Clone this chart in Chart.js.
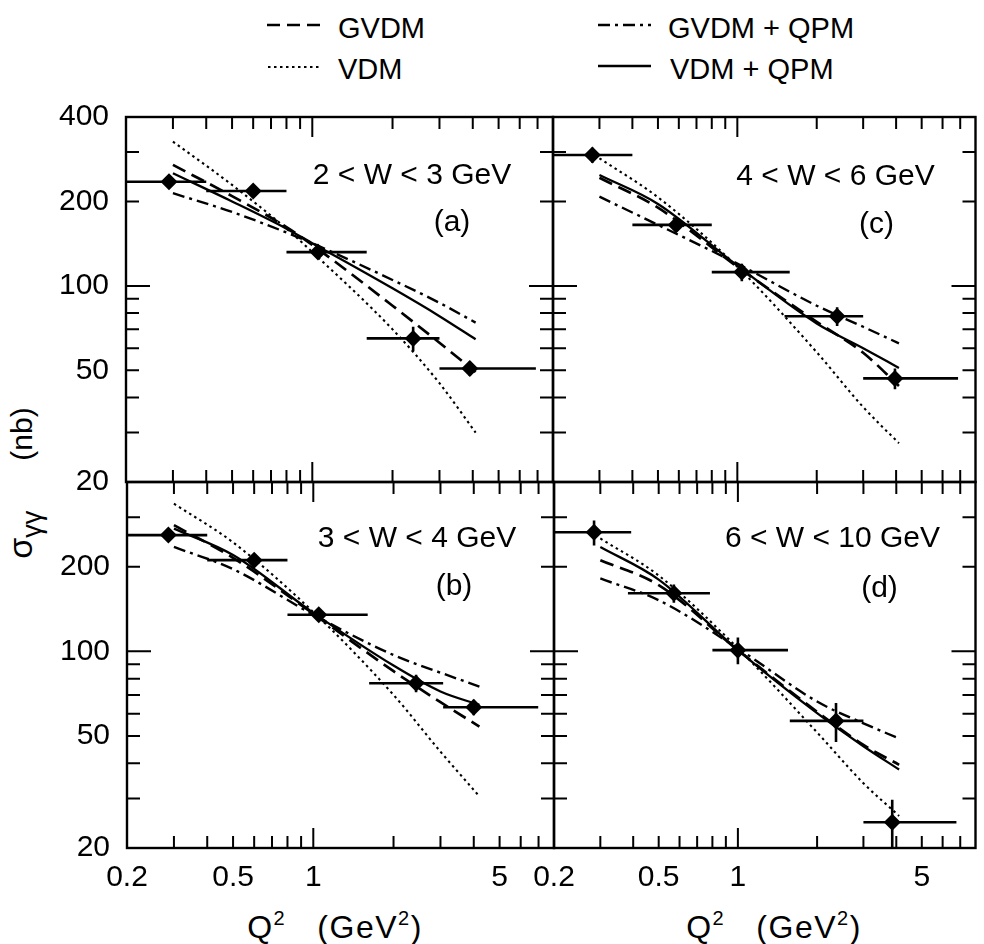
<!DOCTYPE html>
<html><head><meta charset="utf-8">
<script src="https://cdn.jsdelivr.net/npm/chart.js@4.4.1/dist/chart.umd.min.js"></script>
<style>
html,body{margin:0;padding:0;background:#fff;}
#wrap{position:relative;width:984px;height:944px;overflow:hidden;background:#fff;font-family:'Liberation Sans',Arial,Helvetica,sans-serif;color:#000;}
canvas{position:absolute;left:0;top:0;width:984px;height:944px;}
.lg{position:absolute;font-size:29px;line-height:29px;white-space:nowrap;}
.xt{position:absolute;font-size:32px;line-height:32px;letter-spacing:1.5px;white-space:nowrap;transform:translateX(-50%);}
.sup{font-size:20px;position:relative;top:-13px;}
#yt{position:absolute;left:21px;top:483px;font-size:30px;line-height:30px;white-space:nowrap;transform:translate(-50%,-50%) rotate(-90deg);}
</style></head>
<body><div id="wrap">
<svg width="984" height="100" style="position:absolute;left:0;top:0">
  <line x1="267" y1="25" x2="321" y2="25" stroke="#000" stroke-width="2.6" stroke-dasharray="13 7"/>
  <line x1="268" y1="67" x2="322" y2="67" stroke="#000" stroke-width="2.2" stroke-dasharray="2.5 3.5"/>
  <line x1="598" y1="25" x2="651" y2="25" stroke="#000" stroke-width="2.4" stroke-dasharray="12 5 3 5"/>
  <line x1="598" y1="66" x2="651" y2="66" stroke="#000" stroke-width="2.6"/>
</svg>
<div class="lg" style="left:338px;top:14px">GVDM</div>
<div class="lg" style="left:338px;top:55px">VDM</div>
<div class="lg" style="left:668px;top:14px">GVDM + QPM</div>
<div class="lg" style="left:670px;top:55px">VDM + QPM</div>
<div class="xt" style="left:335px;top:911px">Q<span class="sup">2</span>&nbsp;&nbsp;&nbsp;(GeV<span class="sup">2</span>)</div>
<div class="xt" style="left:774px;top:911px">Q<span class="sup">2</span>&nbsp;&nbsp;&nbsp;(GeV<span class="sup">2</span>)</div>
<div id="yt"><span style="font-size:34px">σ</span><span style="font-size:27px;position:relative;top:9px">γγ</span>&nbsp;&nbsp;&nbsp;&nbsp;&nbsp;&nbsp;(nb)</div>
<canvas id="cA" width="984" height="944"></canvas>
<canvas id="cB" width="984" height="944"></canvas>
<canvas id="cC" width="984" height="944"></canvas>
<canvas id="cD" width="984" height="944"></canvas>
</div>
<script>
// ---- tick labels and tick marks ----
const xTickLabels = [0.2, 0.5, 1, 5];
const yTickLabelsTop = [20, 50, 100, 200, 400];
const yTickLabelsBottom = [20, 50, 100, 200];
const xMinorTicks = [0.3, 0.4, 0.5, 0.6, 0.7, 0.8, 0.9, 2, 3, 4, 5, 6, 7];
const xMajorTicks = [1];
const yMinorTicks = [30, 40, 50, 60, 70, 80, 90, 200, 300];
const yMajorTicks = [100];

// ---- panel (a): 2 < W < 3 GeV ----
const qA    = [0.29, 0.60, 1.05, 2.39, 3.9];
const sigA  = [235, 218, 132, 65, 50.8];
const loA   = [0.2, 0.4, 0.8, 1.6, 3.0];
const hiA   = [0.4, 0.8, 1.6, 3.0, 6.9];
const errA  = [7, 7, 5, 6.5, 3];
const cqA      = [0.3, 0.5, 0.8, 1, 2, 3, 4.1];
const vdmA     = [327, 229, 160, 132, 70, 45, 30];
const gvdmA    = [270, 209, 162, 140, 85, 62.7, 49.3];
const gvdmQpmA = [214, 183.5, 155, 142, 105, 87, 74];
const vdmQpmA  = [252, 200, 160, 142, 98, 78, 64.5];

// ---- panel (b): 3 < W < 4 GeV ----
const qB    = [0.286, 0.60, 1.048, 2.43, 4.0];
const sigB  = [259, 211, 135, 77, 63.3];
const loB   = [0.2, 0.4, 0.8, 1.62, 3.07];
const hiB   = [0.4, 0.8, 1.6, 3.07, 6.98];
const errB  = [8, 8, 6, 5.5, 4];
const cqB      = [0.3, 0.5, 1, 2, 3, 4.2];
const vdmB     = [335, 244, 138, 70, 44, 30.5];
const gvdmB    = [281, 215, 136, 85, 66, 54];
const gvdmQpmB = [235, 196, 135, 97, 84, 75];
const vdmQpmB  = [273, 220, 137, 89, 72, 64.5];

// ---- panel (c): 4 < W < 6 GeV ----
const qC    = [0.282, 0.586, 1.04, 2.39, 3.96];
const sigC  = [293, 165, 112, 78, 46.8];
const loC   = [0.2, 0.4, 0.8, 1.51, 3.0];
const hiC   = [0.4, 0.8, 1.58, 3.0, 6.87];
const errC  = [18, 9, 8, 6, 4];
const cqC      = [0.3, 0.5, 1, 2, 3, 4.1];
const vdmC     = [285, 207, 117, 58, 37, 27.5];
const gvdmC    = [243, 190, 117, 74.5, 57.8, 44];
const gvdmQpmC = [208, 165, 120, 85, 71.5, 62.4];
const vdmQpmC  = [248.5, 196, 118, 73.5, 60, 51];

// ---- panel (d): 6 < W < 10 GeV ----
const qD    = [0.284, 0.571, 1.0, 2.36, 3.86];
const sigD  = [265, 161, 101, 56.6, 24.7];
const loD   = [0.2, 0.382, 0.8, 1.575, 3.0];
const hiD   = [0.393, 0.783, 1.55, 3.0, 6.77];
const errD  = [27, 12, 11, 9, 5];
const cqD      = [0.3, 0.5, 1, 2, 3, 4.1];
const vdmD     = [252, 186, 102.5, 51.5, 34, 26];
const gvdmD    = [211, 172, 101, 61, 46.5, 39.5];
const gvdmQpmD = [181.6, 152, 102.5, 66.3, 55.5, 49];
const vdmQpmD  = [235, 180, 101, 60.3, 46, 38];

const FONT = "'Liberation Sans', Arial, Helvetica, sans-serif";
const W = 984, H = 944;
const Y_AXIS_W = 100, X_AXIS_H = 60;

function curve(xs, ys, dash, w) {
  return { type: 'scatter', showLine: true, data: xs.map((x, i) => ({ x: x, y: ys[i] })),
    borderColor: '#000', backgroundColor: '#000', borderWidth: w, borderDash: dash,
    pointRadius: 0, fill: false, cubicInterpolationMode: 'monotone' };
}

function makePanel(id, p) {
  const decor = {
    id: 'decor' + id,
    afterDatasetsDraw(chart) {
      const ctx = chart.ctx, a = chart.chartArea, x = chart.scales.x, y = chart.scales.y;
      ctx.save();
      ctx.beginPath(); ctx.rect(a.left, a.top, a.right - a.left, a.bottom - a.top); ctx.clip();
      ctx.strokeStyle = '#000'; ctx.lineWidth = 2.6; ctx.setLineDash([]);
      p.q.forEach((q, i) => {
        const py = y.getPixelForValue(p.sig[i]);
        const px = x.getPixelForValue(q);
        ctx.beginPath();
        ctx.moveTo(x.getPixelForValue(p.lo[i]), py);
        ctx.lineTo(x.getPixelForValue(p.hi[i]), py);
        ctx.moveTo(px, y.getPixelForValue(p.sig[i] - p.err[i]));
        ctx.lineTo(px, y.getPixelForValue(p.sig[i] + p.err[i]));
        ctx.stroke();
      });
      ctx.restore();
    },
    afterDraw(chart) {
      const ctx = chart.ctx, a = chart.chartArea, x = chart.scales.x, y = chart.scales.y;
      ctx.save();
      ctx.strokeStyle = '#000'; ctx.setLineDash([]);
      ctx.lineWidth = 2;
      ctx.beginPath();
      const tick = (vals, len, isX) => {
        vals.forEach(v => {
          if (isX) {
            const px = x.getPixelForValue(v);
            ctx.moveTo(px, a.bottom); ctx.lineTo(px, a.bottom - len);
            ctx.moveTo(px, a.top); ctx.lineTo(px, a.top + len);
          } else {
            const py = y.getPixelForValue(v);
            ctx.moveTo(a.left, py); ctx.lineTo(a.left + len, py);
            ctx.moveTo(a.right, py); ctx.lineTo(a.right - len, py);
          }
        });
      };
      tick(xMinorTicks, 12, true);
      tick(xMajorTicks, 20, true);
      tick(yMinorTicks, 13, false);
      tick(yMajorTicks, 24, false);
      ctx.stroke();
      ctx.lineWidth = 2.4;
      ctx.strokeRect(a.left, a.top, a.right - a.left, a.bottom - a.top);
      ctx.fillStyle = '#000';
      ctx.font = '30px ' + FONT;
      ctx.textAlign = 'center'; ctx.textBaseline = 'middle';
      ctx.fillText(p.title, a.right + p.wdx, a.top + p.wdy);
      ctx.fillText(p.tag, a.right + p.tdx, a.top + p.tdy);
      ctx.restore();
    }
  };
  const r = p.rect;
  const yw = p.showY ? Y_AXIS_W : 0;
  const xh = p.showX ? X_AXIS_H : 0;
  new Chart(document.getElementById(id), {
    type: 'scatter',
    data: { datasets: [
      curve(p.cq, p.vdm, [2.5, 3.5], 2.1),
      curve(p.cq, p.gvdm, [14, 7], 2.7),
      curve(p.cq, p.gq, [12, 5, 3, 5], 2.4),
      curve(p.cq, p.vq, [], 2.3),
      { type: 'scatter', data: p.q.map((q, i) => ({ x: q, y: p.sig[i] })),
        pointStyle: 'rectRot', pointRadius: 8.5, backgroundColor: '#000', borderColor: '#000',
        borderWidth: 0, showLine: false }
    ] },
    options: {
      responsive: false, animation: false, events: [],
      layout: { padding: { left: r.l - yw, top: r.t, right: W - r.r, bottom: H - r.b - xh } },
      plugins: { legend: { display: false }, tooltip: { enabled: false } },
      scales: {
        x: { type: 'logarithmic', position: 'bottom', min: 0.2, max: 8,
          grid: { display: false, drawTicks: false }, border: { display: false },
          ticks: { display: p.showX, color: '#000', font: { family: FONT, size: 30 }, padding: 12,
            autoSkip: false, maxRotation: 0, minRotation: 0, callback: v => String(v) },
          afterBuildTicks: s => { s.ticks = xTickLabels.map(v => ({ value: v })); },
          afterFit: s => { s.height = xh; } },
        y: { type: 'logarithmic', position: 'left', min: 20, max: 400,
          grid: { display: false, drawTicks: false }, border: { display: false },
          ticks: { display: p.showY, color: '#000', font: { family: FONT, size: 30 }, padding: 17,
            autoSkip: false, callback: v => String(v) },
          afterBuildTicks: s => { s.ticks = p.yLabels.map(v => ({ value: v })); },
          afterFit: s => { s.width = yw; } }
      }
    },
    plugins: [decor]
  });
}

makePanel('cA', { rect: { l: 126, t: 117, r: 553, b: 482 }, showX: false, showY: true, yLabels: yTickLabelsTop,
  q: qA, sig: sigA, lo: loA, hi: hiA, err: errA, cq: cqA, vdm: vdmA, gvdm: gvdmA, gq: gvdmQpmA, vq: vdmQpmA,
  title: '2 < W < 3 GeV', tag: '(a)', wdx: -141, wdy: 59, tdx: -101, tdy: 106 });
makePanel('cC', { rect: { l: 553, t: 117, r: 978, b: 482 }, showX: false, showY: false, yLabels: yTickLabelsTop,
  q: qC, sig: sigC, lo: loC, hi: hiC, err: errC, cq: cqC, vdm: vdmC, gvdm: gvdmC, gq: gvdmQpmC, vq: vdmQpmC,
  title: '4 < W < 6 GeV', tag: '(c)', wdx: -140, wdy: 60, tdx: -99, tdy: 108 });
makePanel('cB', { rect: { l: 127, t: 482, r: 554, b: 848 }, showX: true, showY: true, yLabels: yTickLabelsBottom,
  q: qB, sig: sigB, lo: loB, hi: hiB, err: errB, cq: cqB, vdm: vdmB, gvdm: gvdmB, gq: gvdmQpmB, vq: vdmQpmB,
  title: '3 < W < 4 GeV', tag: '(b)', wdx: -137, wdy: 57, tdx: -100, tdy: 105 });
makePanel('cD', { rect: { l: 554, t: 482, r: 978, b: 848 }, showX: true, showY: false, yLabels: yTickLabelsBottom,
  q: qD, sig: sigD, lo: loD, hi: hiD, err: errD, cq: cqD, vdm: vdmD, gvdm: gvdmD, gq: gvdmQpmD, vq: vdmQpmD,
  title: '6 < W < 10 GeV', tag: '(d)', wdx: -143, wdy: 57, tdx: -96, tdy: 107 });
</script>
</body></html>
